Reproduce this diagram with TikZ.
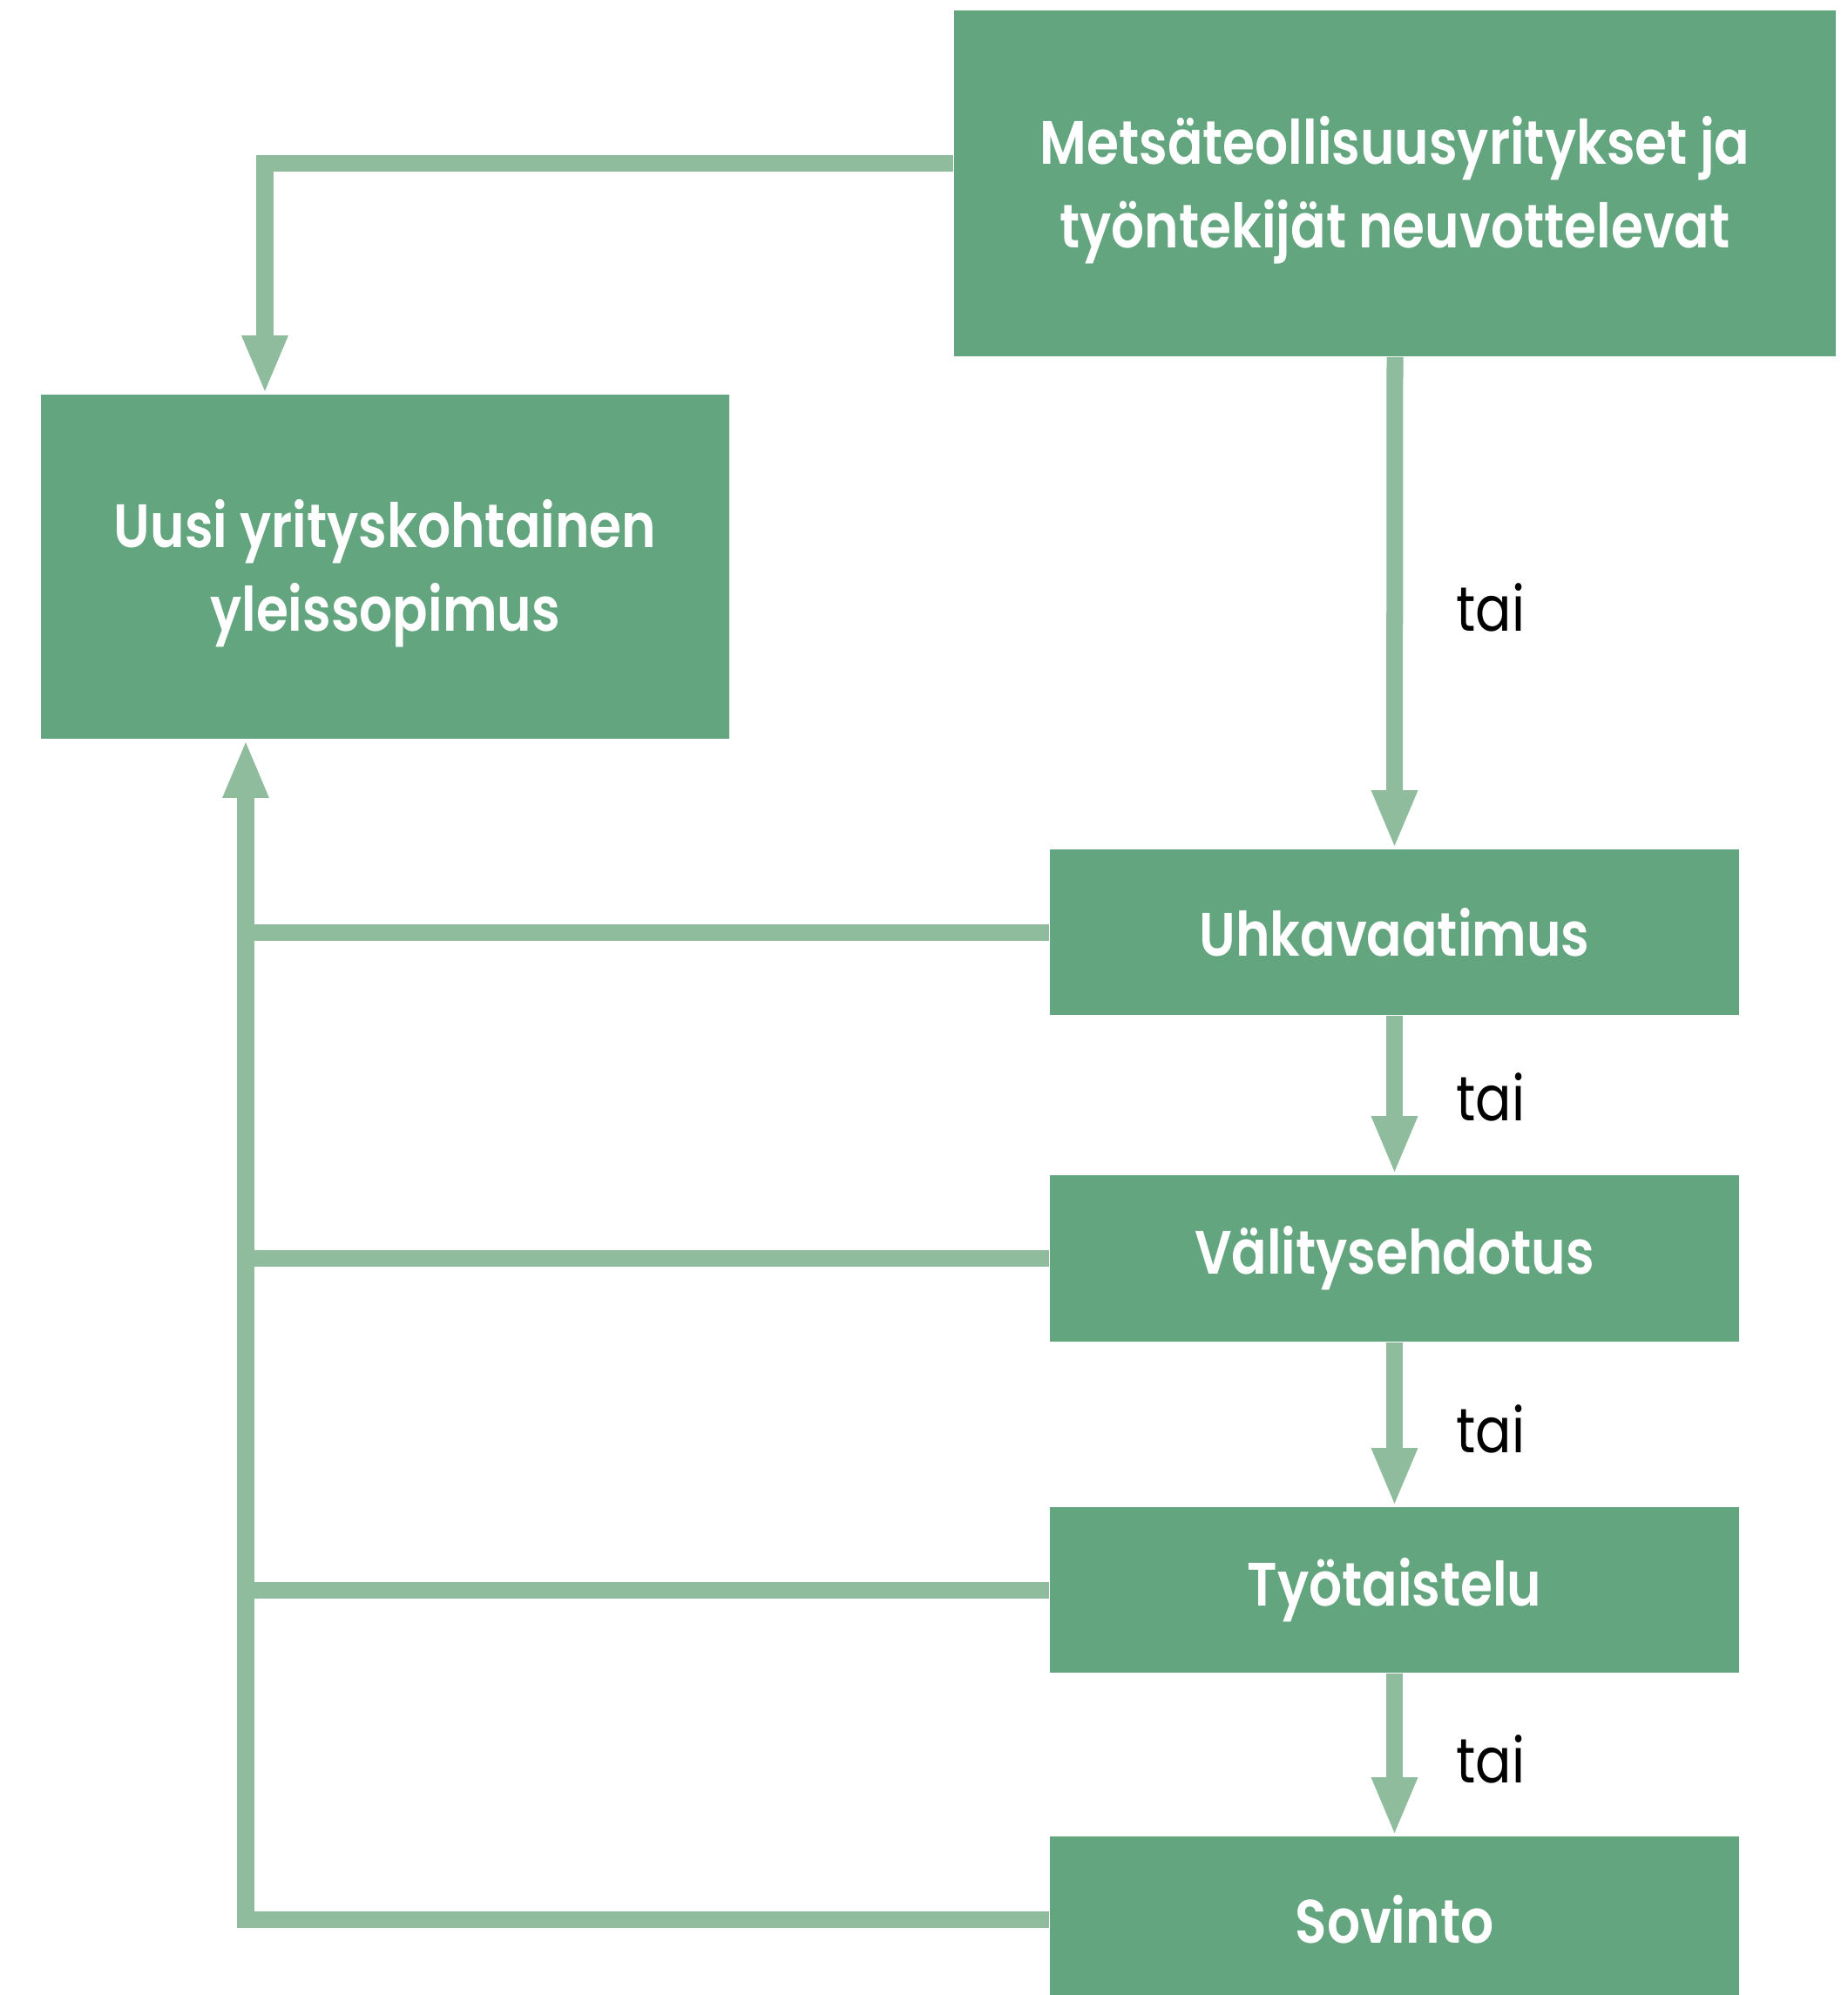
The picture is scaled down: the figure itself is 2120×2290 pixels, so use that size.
\documentclass[tikz,border=0pt]{standalone}
\usepackage{fontspec}
\setmainfont{Poppins}[FakeStretch=0.85,BoldFont={Poppins SemiBold}]
\usetikzlibrary{arrows.meta,calc}
\definecolor{boxgreen}{HTML}{62A57E}
\definecolor{linegreen}{HTML}{8FBC9C}
\tikzset{
  gbox/.style={rectangle, fill=boxgreen, draw=none, inner sep=0pt, text=white,
    align=center, font=\fontsize{20}{27.3}\selectfont\bfseries},
  btext/.style={inner sep=0pt, text=white, align=center,
    font=\fontsize{20}{27.3}\selectfont\bfseries},
  conn/.style={draw=linegreen, line width=0.19cm, line join=miter},
  arr/.style={-{Triangle[width=0.48cm,length=0.67cm]}},
  orlabel/.style={font=\fontsize{20.5}{22}\selectfont, text=black, inner sep=0pt}
}
\begin{document}
\begin{tikzpicture}[x=0.01cm,y=-0.01cm]
\useasboundingbox[fill=white] (0,0) rectangle (2120,2290);
\node[gbox, minimum width=10.12cm, minimum height=3.97cm] (M) at (1601,210.5) {};
\node[btext] (Mt) at ($(M.center)+(0,8)$)
  {Metsäteollisuusyritykset ja\\työntekijät neuvottelevat};
\node[gbox, minimum width=7.90cm, minimum height=3.95cm] (L) at (442,650.5) {};
\node[btext] (Lt) at ($(L.center)+(0,8)$)
  {Uusi yrityskohtainen\\yleissopimus};
\node[gbox, minimum width=7.91cm, minimum height=1.90cm] (U) at (1600.5,1070) {Uhkavaatimus};
\node[gbox, minimum width=7.91cm, minimum height=1.91cm] (V) at (1600.5,1444.5) {Välitysehdotus};
\node[gbox, minimum width=7.91cm, minimum height=1.90cm] (T) at (1600.5,1825) {Työtaistelu};
\node[gbox, minimum width=7.91cm, minimum height=1.90cm] (S) at (1600.5,2203) {Sovinto};

\coordinate (trunk) at ($(L.south)+(-160,0)$);
\coordinate (drop) at ($(L.north)+(-138,0)$);

\draw[conn,arr] ($(M.west)+(0,-23)$) -| (drop);
\draw[conn,arr] (M.south) -- (U.north);
\draw[conn,arr] (U.south) -- (V.north);
\draw[conn,arr] (V.south) -- (T.north);
\draw[conn,arr] (T.south) -- (S.north);

\draw[conn,arr] (S.west) -| (trunk);
\draw[conn] (U.west) -- (U.west -| trunk);
\draw[conn] (V.west) -- (V.west -| trunk);
\draw[conn] (T.west) -- (T.west -| trunk);

\node[orlabel] (t1) at (1711,697) {tai};
\node[orlabel] (t2) at (1711,1259) {tai};
\node[orlabel] (t3) at (1711,1640) {tai};
\node[orlabel] (t4) at (1711,2019) {tai};
\end{tikzpicture}
\end{document}
